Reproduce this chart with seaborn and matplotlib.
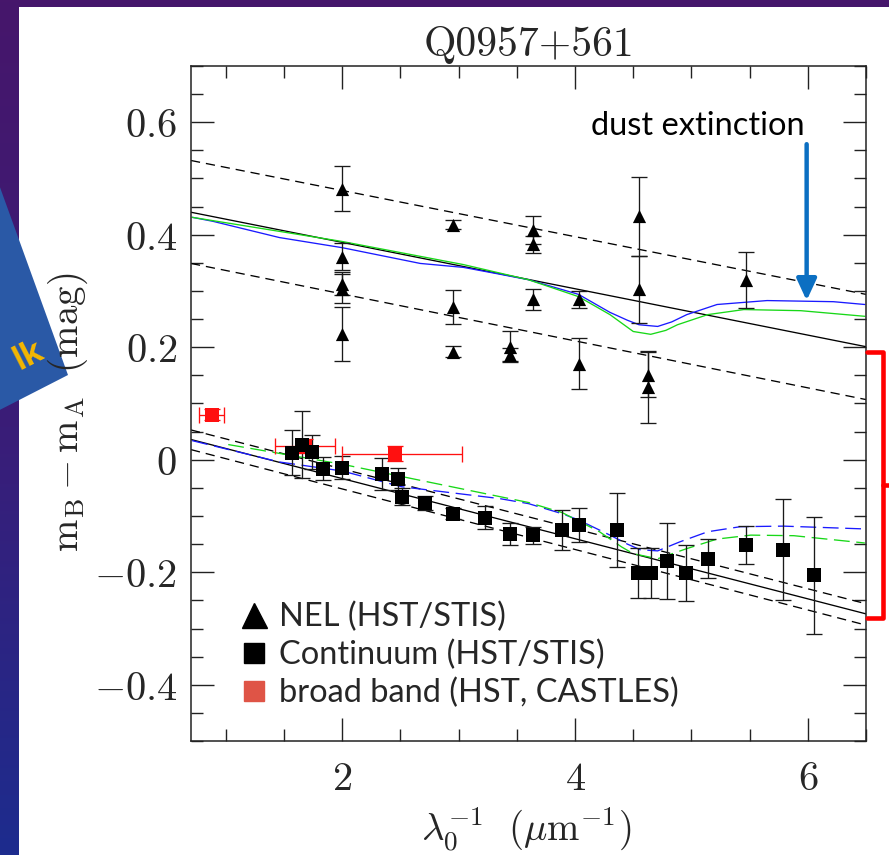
import numpy as np
import matplotlib
matplotlib.use("Agg")
import matplotlib.pyplot as plt
import seaborn as sns
from matplotlib.lines import Line2D
from matplotlib.patches import Polygon, Rectangle
from matplotlib.colors import LinearSegmentedColormap
from matplotlib.ticker import MultipleLocator, FixedLocator, FixedFormatter

# ---------------- data ----------------
# NEL (HST/STIS) triangles
nel_x = [2.00, 2.00, 2.00, 2.00, 2.00, 2.95, 2.95, 2.95, 3.44, 3.44,
         3.64, 3.64, 3.64, 4.03, 4.03, 4.55, 4.55, 4.63, 4.63, 5.47]
nel_y = [0.482, 0.361, 0.313, 0.304, 0.223, 0.418, 0.272, 0.192, 0.201, 0.187,
         0.409, 0.383, 0.285, 0.285, 0.171, 0.433, 0.303, 0.151, 0.130, 0.320]
nel_err = [0.040, 0.024, 0.020, 0.026, 0.048, 0.008, 0.030, 0.010, 0.028, 0.012,
           0.025, 0.015, 0.018, 0.015, 0.045, 0.070, 0.060, 0.040, 0.064, 0.050]

# Continuum (HST/STIS) squares
cont_x = [1.57, 1.65, 1.74, 1.83, 2.00, 2.34, 2.48, 2.51, 2.71, 2.95, 3.23, 3.44,
          3.64, 3.89, 4.03, 4.36, 4.54, 4.65, 4.79, 4.95, 5.14, 5.47, 5.79, 6.05]
cont_y = [0.012, 0.027, 0.014, -0.016, -0.014, -0.025, -0.034, -0.066, -0.077, -0.096,
          -0.103, -0.132, -0.134, -0.125, -0.116, -0.125, -0.201, -0.201, -0.180,
          -0.201, -0.176, -0.151, -0.160, -0.205]
cont_err = [0.040, 0.060, 0.030, 0.020, 0.020, 0.028, 0.020, 0.015, 0.012, 0.010,
            0.020, 0.020, 0.015, 0.036, 0.030, 0.066, 0.045, 0.045, 0.068, 0.050,
            0.035, 0.034, 0.090, 0.104]

# broad band (HST, CASTLES) red squares
band_x = [0.877, 1.68, 2.45]
band_y = [0.080, 0.024, 0.011]
band_xerr_lo = [0.108, 0.26, 0.45]
band_xerr_hi = [0.108, 0.26, 0.58]
band_yerr = [0.010, 0.012, 0.014]

# straight model lines (end points)
fit_x = [0.7, 6.5]
upper_fit = [0.440, 0.201]
upper_hi = [0.532, 0.294]
upper_lo = [0.349, 0.107]
lower_fit = [0.036, -0.274]
lower_hi = [0.053, -0.256]
lower_lo = [0.018, -0.294]

# extinction curves
blue_up_x = [0.71, 0.886, 1.46, 2.00, 2.67, 3.04, 3.35, 3.60, 4.03, 4.30, 4.45,
             4.55, 4.71, 4.83, 4.96, 5.22, 5.65, 6.22, 6.49]
blue_up_y = [0.431, 0.424, 0.395, 0.377, 0.349, 0.342, 0.330, 0.320, 0.294, 0.262,
             0.248, 0.240, 0.237, 0.245, 0.258, 0.276, 0.283, 0.281, 0.276]
green_up_x = [0.71, 2.00, 3.04, 3.60, 4.03, 4.30, 4.40, 4.50, 4.65, 4.78, 4.88,
              5.14, 5.45, 5.94, 6.49]
green_up_y = [0.431, 0.388, 0.347, 0.320, 0.290, 0.258, 0.243, 0.228, 0.223, 0.230,
              0.240, 0.258, 0.267, 0.265, 0.255]
blue_lo_x = [0.71, 1.46, 2.00, 2.51, 3.35, 3.60, 3.89, 4.03, 4.30, 4.45, 4.56,
             4.71, 4.90, 5.14, 5.42, 5.79, 6.49]
blue_lo_y = [0.034, -0.004, -0.020, -0.048, -0.069, -0.078, -0.096, -0.107, -0.134,
             -0.150, -0.160, -0.162, -0.146, -0.128, -0.119, -0.118, -0.123]
green_lo_x = [1.02, 2.00, 2.75, 3.60, 3.89, 4.21, 4.40, 4.50, 4.71, 4.96, 5.22,
              5.51, 5.88, 6.49]
green_lo_y = [0.027, -0.008, -0.040, -0.076, -0.094, -0.128, -0.155, -0.167, -0.176,
              -0.158, -0.141, -0.134, -0.135, -0.148]

xtick_vals = [2, 4, 6]
xtick_labels = ["$2$", "$4$", "$6$"]
ytick_vals = [-0.4, -0.2, 0.0, 0.2, 0.4, 0.6]
ytick_labels = ["$-0.4$", "$-0.2$", "$0$", "$0.2$", "$0.4$", "$0.6$"]
legend_labels = ["NEL (HST/STIS)", "Continuum (HST/STIS)", "broad band (HST, CASTLES)"]
title_text = "Q0957+561"
annot_text = "dust extinction"
arrow_x, arrow_tail_y, arrow_tip_y = 5.99, 0.561, 0.283
annot_x, annot_y = 5.054, 0.593

# ---------------- style ----------------
sns.set_style("ticks")
plt.rcParams["font.family"] = ["Lato", "DejaVu Sans"]
plt.rcParams["mathtext.fontset"] = "cm"

W, H = 889, 855
fig = plt.figure(figsize=(W / 100, H / 100), dpi=100)

# slide background
bg = fig.add_axes([0, 0, 1, 1], zorder=-10)
cmap = LinearSegmentedColormap.from_list("slide", ["#46166b", "#3a1d78", "#1d2c8e"])
bg.imshow(np.linspace(0, 1, 256)[:, None], cmap=cmap, extent=(0, W, H, 0), aspect="auto")
bg.add_patch(Rectangle((19, 7), W - 19, H - 7, facecolor="white", edgecolor="none"))
bg.add_patch(Polygon([(68, 375), (-32, 99), (-200, 185), (-100, 461)], closed=True,
                     facecolor="#2a59a6", edgecolor="none"))
bg.text(46, 357, "lk", color="#f5b700", fontsize=23, fontweight="bold", rotation=27,
        ha="right", va="baseline", rotation_mode="anchor", family=["Open Sans", "DejaVu Sans"])
bg.set_xlim(0, W)
bg.set_ylim(H, 0)
bg.axis("off")

# main axes
ax = fig.add_axes([191 / W, 1 - 741 / H, 675 / W, 675 / H])
ax.set_facecolor("white")

def draw_line(x, y, color, ls="-", lw=0.95):
    sns.lineplot(x=x, y=y, ax=ax, color=color, linewidth=lw, linestyle=ls,
                 estimator=None, sort=False, legend=False, zorder=2)

dash_k = (0, (7, 4.5))
dash_c = (0, (12, 5))
draw_line(fit_x, upper_fit, "black")
draw_line(fit_x, upper_hi, "black", dash_k)
draw_line(fit_x, upper_lo, "black", dash_k)
draw_line(fit_x, lower_fit, "black")
draw_line(fit_x, lower_hi, "black", dash_k)
draw_line(fit_x, lower_lo, "black", dash_k)
draw_line(blue_up_x, blue_up_y, "#1a1aff")
draw_line(green_up_x, green_up_y, "#18d818")
draw_line(blue_lo_x, blue_lo_y, "#1a1aff", dash_c)
draw_line(green_lo_x, green_lo_y, "#18d818", dash_c)

ax.errorbar(nel_x, nel_y, yerr=nel_err, fmt="none", ecolor="#1a1a1a",
            elinewidth=0.95, capsize=6, capthick=0.95, zorder=3)
ax.errorbar(cont_x, cont_y, yerr=cont_err, fmt="none", ecolor="#1a1a1a",
            elinewidth=0.95, capsize=6, capthick=0.95, zorder=3)
ax.errorbar(band_x, band_y, xerr=[band_xerr_lo, band_xerr_hi], yerr=band_yerr, fmt="none",
            ecolor="#ff1010", elinewidth=0.95, capsize=6, capthick=0.95, zorder=3)

sns.scatterplot(x=nel_x, y=nel_y, marker="^", s=9.5 ** 2, color="black", linewidth=0,
                ax=ax, zorder=4, legend=False)
sns.scatterplot(x=band_x, y=band_y, marker="s", s=9.5 ** 2, color="#ff1010", linewidth=0,
                ax=ax, zorder=4, legend=False)
sns.scatterplot(x=cont_x, y=cont_y, marker="s", s=9.8 ** 2, color="black", linewidth=0,
                ax=ax, zorder=5, legend=False)

ax.set_xlim(0.7, 6.5)
ax.set_ylim(-0.5, 0.7)
ax.xaxis.set_major_locator(FixedLocator(xtick_vals))
ax.xaxis.set_major_formatter(FixedFormatter(xtick_labels))
ax.xaxis.set_minor_locator(MultipleLocator(0.5))
ax.yaxis.set_major_locator(FixedLocator(ytick_vals))
ax.yaxis.set_major_formatter(FixedFormatter(ytick_labels))
ax.yaxis.set_minor_locator(MultipleLocator(0.05))
ax.tick_params(which="both", direction="in", top=True, right=True, color="#222222", width=1.0)
ax.tick_params(which="major", length=16.5, labelsize=29)
ax.tick_params(axis="y", which="major", pad=10)
ax.tick_params(axis="x", which="major", pad=14)
ax.tick_params(which="minor", length=8.5)
for sp in ax.spines.values():
    sp.set_color("#222222")
    sp.set_linewidth(1.1)

ax.set_title(title_text, fontsize=30, family="cmr10", pad=7)
ax.set_xlabel(r"$\lambda_0^{-1}\ \ (\mu{\rm m}^{-1})$", fontsize=28)
ax.xaxis.set_label_coords(0.497, -0.095)
ax.xaxis.label.set_verticalalignment("top")
ax.set_ylabel(r"$\rm m_B - m_A\ \ (mag)$", fontsize=28)
ax.yaxis.set_label_coords(-0.15, 0.487)

ax.text(annot_x, annot_y, annot_text, fontsize=23.5, ha="center", va="center", color="black")
ax.annotate("", xy=(arrow_x, arrow_tip_y), xytext=(arrow_x, arrow_tail_y),
            arrowprops=dict(arrowstyle="-|>,head_length=1.3,head_width=0.6",
                            color="#0b6fc2", lw=3.2, shrinkA=0, shrinkB=0), zorder=6)

handles = [Line2D([], [], marker="^", ls="none", color="black", ms=18),
           Line2D([], [], marker="s", ls="none", color="black", ms=15),
           Line2D([], [], marker="s", ls="none", color="#df5446", ms=15)]
ax.legend(handles, legend_labels, loc="center left", bbox_to_anchor=(0.074, 0.1274),
          frameon=False, prop={"family": "Lato", "size": 23.5}, handlelength=0.8,
          handletextpad=0.37, labelspacing=0.23, borderpad=0, borderaxespad=0)

# red bracket at right
fig.add_artist(Line2D([867, 883, 883, 867], [352, 352, 618, 618], transform=bg.transData,
                      color="#ff0000", lw=3.3, solid_joinstyle="round", zorder=5))
fig.add_artist(Line2D([883, 889], [485, 485], transform=bg.transData,
                      color="#ff0000", lw=3.3, zorder=5))

fig.savefig("out.png", dpi=100)
